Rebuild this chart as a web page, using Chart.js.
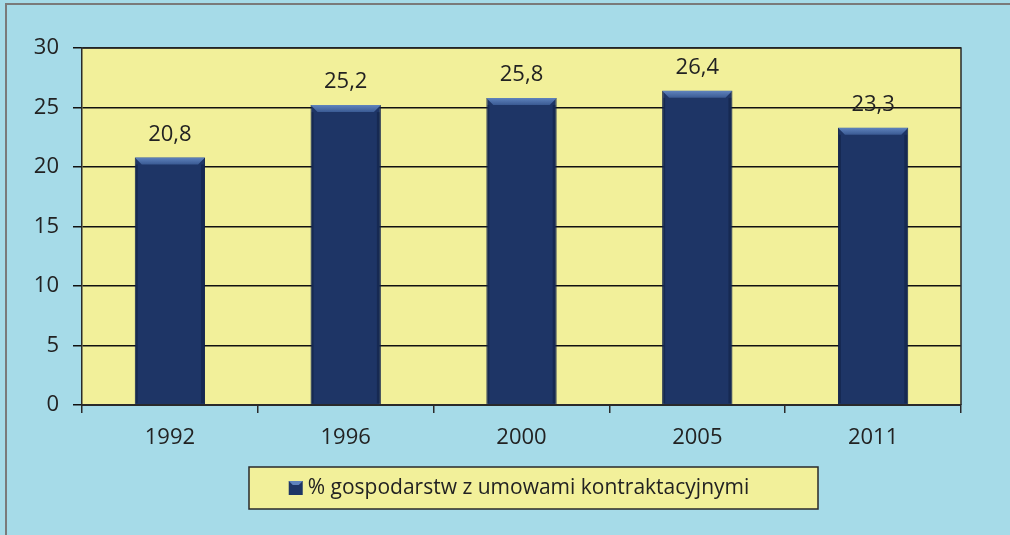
<!DOCTYPE html>
<html>
<head>
<meta charset="utf-8">
<script src="https://cdn.jsdelivr.net/npm/chart.js@4/dist/chart.umd.min.js"></script>
<style>
  html, body { margin: 0; padding: 0; background: #a6dbe8; }
  #wrap { width: 1010px; height: 535px; }
</style>
</head>
<body>
<div id="wrap"><canvas id="myChart" width="1010" height="535"></canvas></div>
<script>
const years = ['1992', '1996', '2000', '2005', '2011'];
const shares = [20.8, 25.2, 25.8, 26.4, 23.3];
const yTicks = [0, 5, 10, 15, 20, 25, 30];
const seriesName = '% gospodarstw z umowami kontraktacyjnymi';

const FONT = '"Open Sans", Lato, sans-serif';
const TEXT = '#222222';
const BAR = '#1e3566';

// tło, ramka i żółte pole wykresu
const backgroundPlugin = {
    id: 'background',
    beforeDraw(chart) {
        const ctx = chart.ctx;
        const a = chart.chartArea;
        ctx.save();
        ctx.fillStyle = '#a6dbe8';
        ctx.fillRect(0, 0, chart.width, chart.height);
        ctx.fillStyle = '#f2f09a';
        ctx.fillRect(a.left, a.top, a.right - a.left, a.bottom - a.top);
        // szara ramka (góra i lewa strona)
        ctx.strokeStyle = '#7a7a7a';
        ctx.lineWidth = 2;
        ctx.beginPath();
        ctx.moveTo(6, chart.height);
        ctx.lineTo(6, 4);
        ctx.lineTo(chart.width, 4);
        ctx.stroke();
        ctx.restore();
    },
    afterDatasetsDraw(chart) {
        const ctx = chart.ctx;
        const a = chart.chartArea;
        ctx.save();
        ctx.strokeStyle = '#2a2a2a';
        ctx.lineWidth = 1.5;
        ctx.beginPath();
        ctx.moveTo(a.left, a.top);
        ctx.lineTo(a.right, a.top);
        ctx.lineTo(a.right, a.bottom);
        ctx.stroke();
        ctx.restore();
    }
};

// fazowanie słupków + etykiety wartości
const barDecorPlugin = {
    id: 'barDecor',
    afterDatasetsDraw(chart) {
        const ctx = chart.ctx;
        const meta = chart.getDatasetMeta(0);
        ctx.save();
        meta.data.forEach(function(bar, i) {
            const left = bar.x - bar.width / 2;
            const right = bar.x + bar.width / 2;
            const top = bar.y;
            const bevel = 7;
            const g = ctx.createLinearGradient(0, top, 0, top + bevel);
            g.addColorStop(0, '#5f83bd');
            g.addColorStop(1, '#3a5a93');
            ctx.fillStyle = g;
            ctx.beginPath();
            ctx.moveTo(left, top);
            ctx.lineTo(right, top);
            ctx.lineTo(right - bevel, top + bevel);
            ctx.lineTo(left + bevel, top + bevel);
            ctx.closePath();
            ctx.fill();
            // ciemniejsze boki
            ctx.fillStyle = 'rgba(10, 20, 45, 0.35)';
            ctx.fillRect(right - 4, top + bevel, 3, bar.base - top - bevel - 1);
            ctx.fillRect(left + 1, top + bevel, 2, bar.base - top - bevel - 1);

            ctx.fillStyle = TEXT;
            ctx.font = '22px ' + FONT;
            ctx.textAlign = 'center';
            ctx.textBaseline = 'middle';
            const label = String(chart.data.datasets[0].data[i]).replace('.', ',');
            ctx.fillText(label, bar.x, top - 23);
        });
        ctx.restore();
    }
};

// legenda w żółtej ramce
const legendBoxPlugin = {
    id: 'legendBox',
    afterDraw(chart) {
        const ctx = chart.ctx;
        const ds = chart.data.datasets[0];
        ctx.save();
        ctx.font = '21px ' + FONT;
        const tw = ctx.measureText(ds.label).width;
        const boxLeft = 249, boxW = 569, boxH = 42, top = 467;
        ctx.fillStyle = '#f2f09a';
        ctx.fillRect(boxLeft, top, boxW, boxH);
        ctx.strokeStyle = '#2a2a2a';
        ctx.lineWidth = 1.5;
        ctx.strokeRect(boxLeft, top, boxW, boxH);

        const contentW = 14 + 5 + tw;
        const x0 = 519 - contentW / 2;
        const my = top + boxH / 2;
        ctx.fillStyle = ds.backgroundColor;
        ctx.fillRect(x0, my - 7, 14, 14);
        ctx.fillStyle = '#5f83bd';
        ctx.beginPath();
        ctx.moveTo(x0, my - 7);
        ctx.lineTo(x0 + 14, my - 7);
        ctx.lineTo(x0 + 10, my - 3);
        ctx.lineTo(x0 + 4, my - 3);
        ctx.closePath();
        ctx.fill();

        ctx.fillStyle = TEXT;
        ctx.textAlign = 'left';
        ctx.textBaseline = 'middle';
        ctx.fillText(ds.label, x0 + 19, my);
        ctx.restore();
    }
};

const data = {
    labels: years,
    datasets: [{
        label: seriesName,
        data: shares,
        backgroundColor: BAR,
        borderColor: '#10204a',
        borderWidth: 1,
        barPercentage: 0.4,
        categoryPercentage: 1.0
    }]
};

const config = {
    type: 'bar',
    data: data,
    options: {
        responsive: false,
        animation: false,
        layout: {
            padding: { top: 48, right: 49, bottom: 0, left: 0 }
        },
        plugins: {
            legend: { display: false },
            tooltip: { enabled: false }
        },
        scales: {
            x: {
                afterFit: function(scale) { scale.height = 130; },
                grid: {
                    offset: true,
                    drawOnChartArea: false,
                    drawTicks: true,
                    tickLength: 8,
                    color: '#2a2a2a',
                    lineWidth: 1.5
                },
                border: { color: '#2a2a2a', width: 2 },
                ticks: {
                    color: TEXT,
                    font: { family: FONT, size: 22 },
                    padding: 12
                }
            },
            y: {
                min: 0,
                max: 30,
                afterFit: function(scale) { scale.width = 82; },
                afterBuildTicks: function(scale) {
                    scale.ticks = yTicks.map(function(v) { return { value: v }; });
                },
                grid: {
                    color: '#111111',
                    lineWidth: 1.5,
                    tickLength: 9
                },
                border: { color: '#2a2a2a', width: 1.5 },
                ticks: {
                    color: TEXT,
                    font: { family: FONT, size: 22 },
                    padding: 14
                }
            }
        }
    },
    plugins: [backgroundPlugin, barDecorPlugin, legendBoxPlugin]
};

const myChart = new Chart(document.getElementById('myChart'), config);
</script>
</body>
</html>
